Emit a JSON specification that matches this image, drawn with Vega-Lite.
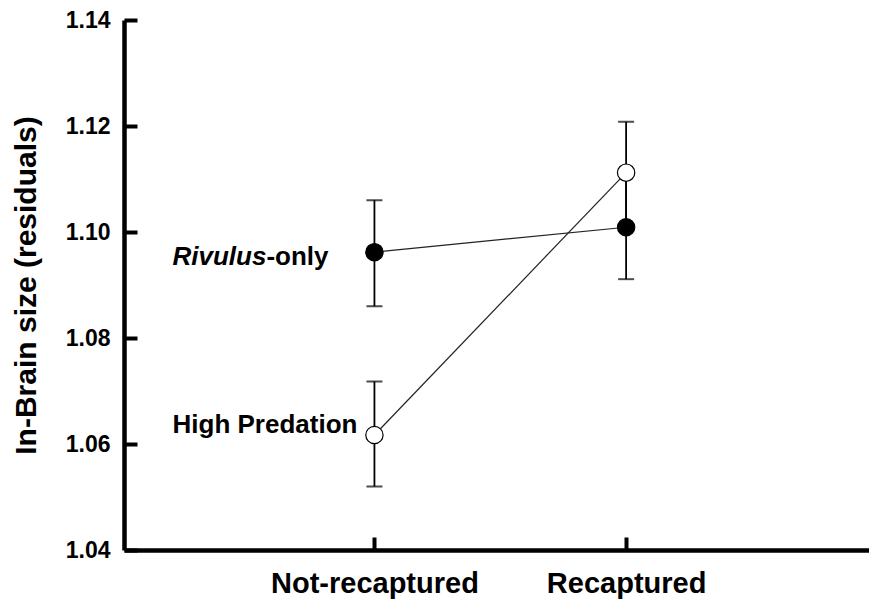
{
  "$schema": "https://vega.github.io/schema/vega-lite/v6.json",
  "width": 745,
  "height": 530,
  "autosize": {"type": "none"},
  "padding": {"left": 124, "top": 20, "right": 0, "bottom": 53},
  "background": "white",
  "config": {"view": {"stroke": null}, "font": "Liberation Sans"},
  "datasets": {
    "pts": [
      {"group": "Rivulus-only", "cond": 1, "mean": 1.0962, "lo": 1.0860, "hi": 1.1060},
      {"group": "Rivulus-only", "cond": 2, "mean": 1.1009, "lo": 1.0911, "hi": 1.1107},
      {"group": "High Predation", "cond": 1, "mean": 1.0617, "lo": 1.0520, "hi": 1.0718},
      {"group": "High Predation", "cond": 2, "mean": 1.1112, "lo": 1.1013, "hi": 1.1208}
    ],
    "labels": [
      {"label": "Rivulus", "cond": 1, "pos": 1.0938},
      {"label": "-only", "cond": 1, "pos": 1.0938},
      {"label": "High Predation", "cond": 1, "pos": 1.0621}
    ]
  },
  "layer": [
    {
      "data": {"name": "pts"},
      "mark": {"type": "line", "color": "#222222", "strokeWidth": 1.2},
      "encoding": {
        "x": {
          "field": "cond", "type": "quantitative",
          "scale": {"domain": [0.005, 2.965], "nice": false, "zero": false},
          "axis": {
            "values": [1, 2],
            "labelExpr": "datum.value == 1 ? 'Not-recaptured' : 'Recaptured'",
            "title": null, "grid": false,
            "domainColor": "black", "domainWidth": 4.5,
            "tickColor": "black", "tickWidth": 4, "tickSize": -13,
            "labelPadding": 32, "labelLimit": 0,
            "labelFont": "Liberation Sans", "labelFontSize": 29, "labelFontWeight": "bold", "labelColor": "black"
          }
        },
        "y": {
          "field": "mean", "type": "quantitative",
          "scale": {"domain": [1.04, 1.14], "nice": false, "zero": false},
          "axis": {
            "values": [1.04, 1.06, 1.08, 1.10, 1.12, 1.14],
            "format": ".2f",
            "title": "In-Brain size (residuals)",
            "titleFont": "Liberation Sans", "titleFontSize": 30, "titleFontWeight": "bold", "titleColor": "black",
            "titleX": -98, "titleY": 265, "titleBaseline": "middle", "titleAngle": -90, "titleAlign": "center",
            "titleLimit": 0,
            "grid": false,
            "domainColor": "black", "domainWidth": 4.5,
            "tickColor": "black", "tickWidth": 4, "tickSize": -13,
            "labelPadding": 27, "labelLimit": 0,
            "labelFont": "Liberation Sans", "labelFontSize": 23, "labelFontWeight": "bold", "labelColor": "black"
          }
        },
        "detail": {"field": "group"}
      }
    },
    {
      "data": {"name": "pts"},
      "mark": {"type": "rule", "color": "black", "strokeWidth": 1.8},
      "encoding": {
        "x": {"field": "cond", "type": "quantitative"},
        "y": {"field": "lo", "type": "quantitative"},
        "y2": {"field": "hi"}
      }
    },
    {
      "data": {"name": "pts"},
      "mark": {"type": "tick", "orient": "horizontal", "color": "black", "size": 16, "thickness": 2},
      "encoding": {
        "x": {"field": "cond", "type": "quantitative"},
        "y": {"field": "lo", "type": "quantitative"}
      }
    },
    {
      "data": {"name": "pts"},
      "mark": {"type": "tick", "orient": "horizontal", "color": "black", "size": 16, "thickness": 2},
      "encoding": {
        "x": {"field": "cond", "type": "quantitative"},
        "y": {"field": "hi", "type": "quantitative"}
      }
    },
    {
      "data": {"name": "pts"},
      "mark": {"type": "point", "shape": "circle", "filled": true, "size": 300, "stroke": "black", "strokeWidth": 1.2, "opacity": 1},
      "encoding": {
        "x": {"field": "cond", "type": "quantitative"},
        "y": {"field": "mean", "type": "quantitative"},
        "fill": {
          "field": "group", "type": "nominal",
          "scale": {"domain": ["Rivulus-only", "High Predation"], "range": ["black", "white"]},
          "legend": null
        }
      }
    },
    {
      "data": {"name": "labels"},
      "transform": [{"filter": "datum.label == 'Rivulus'"}],
      "mark": {"type": "text", "align": "right", "baseline": "alphabetic", "dx": -108, "font": "Liberation Sans", "fontSize": 26, "fontWeight": "bold", "fontStyle": "italic", "color": "black"},
      "encoding": {
        "x": {"field": "cond", "type": "quantitative"},
        "y": {"field": "pos", "type": "quantitative"},
        "text": {"field": "label"}
      }
    },
    {
      "data": {"name": "labels"},
      "transform": [{"filter": "datum.label == '-only'"}],
      "mark": {"type": "text", "align": "left", "baseline": "alphabetic", "dx": -108, "font": "Liberation Sans", "fontSize": 26, "fontWeight": "bold", "color": "black"},
      "encoding": {
        "x": {"field": "cond", "type": "quantitative"},
        "y": {"field": "pos", "type": "quantitative"},
        "text": {"field": "label"}
      }
    },
    {
      "data": {"name": "labels"},
      "transform": [{"filter": "datum.label == 'High Predation'"}],
      "mark": {"type": "text", "align": "right", "baseline": "alphabetic", "dx": -17, "font": "Liberation Sans", "fontSize": 26, "fontWeight": "bold", "color": "black"},
      "encoding": {
        "x": {"field": "cond", "type": "quantitative"},
        "y": {"field": "pos", "type": "quantitative"},
        "text": {"field": "label"}
      }
    }
  ]
}
